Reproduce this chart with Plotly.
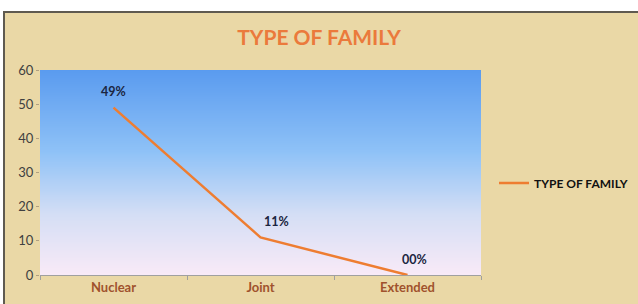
import numpy as np
import plotly.graph_objects as go

categories = ["Nuclear", "Joint", "Extended"]
values = [49, 11, 0]
labels = ["49%", "11%", "00%"]
label_xshift = [0, 16, 7]
series_name = "TYPE OF FAMILY"
y_ticks = [0, 10, 20, 30, 40, 50, 60]

W, H = 638, 304
ML, MR, MT, MB = 40, 157, 70, 29
PW, PH = W - ML - MR, H - MT - MB

def px_x(p):
    return (p - ML) / PW

def px_y(p):
    return (H - MB - p) / PH

fig = go.Figure()

# gradient background of plot area
gy = np.linspace(0, 60, 61)
fig.add_trace(go.Heatmap(
    x=categories, y=gy, z=[[v] * 3 for v in gy],
    colorscale=[[0, "#F9EAF7"], [0.3, "#D4DEF5"], [0.6, "#8FC2F7"], [1, "#5A9BEF"]],
    showscale=False, hoverinfo="skip", zsmooth="best",
))

fig.add_trace(go.Scatter(
    x=categories, y=values, mode="lines", name=series_name,
    line=dict(color="#EE7D31", width=2.5),
    cliponaxis=False,
))

annotations = [
    dict(x=c, y=v, text=t, showarrow=False, xshift=dx, yshift=16,
         font=dict(family="Lato", size=12.5, color="#1B2540", weight="bold"))
    for c, v, t, dx in zip(categories, values, labels, label_xshift)
]

fig.update_layout(
    width=W, height=H,
    margin=dict(l=ML, r=MR, t=MT, b=MB, autoexpand=False),
    paper_bgcolor="#EAD8A6",
    plot_bgcolor="rgba(0,0,0,0)",
    title=dict(text="TYPE OF FAMILY", x=0.5, xref="container", y=1 - 38 / H, yanchor="middle",
               xanchor="center",
               font=dict(family="Lato", size=21, color="#EB7A3C", weight="bold")),
    showlegend=True,
    legend=dict(xref="container", yref="container", x=494 / W, y=1 - 183 / H,
                xanchor="left", yanchor="middle",
                bgcolor="rgba(0,0,0,0)",
                font=dict(family="Lato", size=12, color="#111111", weight="bold")),
    annotations=annotations,
    xaxis=dict(type="category", range=[-0.5, 2.5], showgrid=False, automargin=False,
               showline=True, linecolor="#A0A0A0", ticks="outside", tickson="boundaries",
               ticklen=4, tickcolor="#A0A0A0",
               tickfont=dict(family="Lato", size=13, color="#A0522D", weight="bold")),
    yaxis=dict(range=[0, 60], tickvals=y_ticks, showgrid=True, gridcolor="#8C9BAE",
               automargin=False,
               gridwidth=1, zeroline=False, showline=False, ticks="outside", ticklen=3,
               tickcolor="#B0A080",
               tickfont=dict(family="Lato", size=13, color="#404040")),
    shapes=[
        dict(type="rect", xref="paper", yref="paper", x0=px_x(-5), x1=px_x(W + 5),
             y0=px_y(-5), y1=px_y(11), fillcolor="white", line=dict(width=0), layer="above"),
        dict(type="rect", xref="paper", yref="paper", x0=px_x(-5), x1=px_x(3),
             y0=px_y(H + 5), y1=px_y(-5), fillcolor="white", line=dict(width=0), layer="above"),
        dict(type="rect", xref="paper", yref="paper", x0=px_x(4), x1=px_x(W + 5),
             y0=px_y(H + 5), y1=px_y(12), fillcolor="rgba(0,0,0,0)",
             line=dict(color="#5F5A50", width=2), layer="above"),
    ],
)

fig.write_html("out.html", config={"displayModeBar": False},
               post_script="document.body.style.margin='0';document.body.style.overflow='hidden';")
